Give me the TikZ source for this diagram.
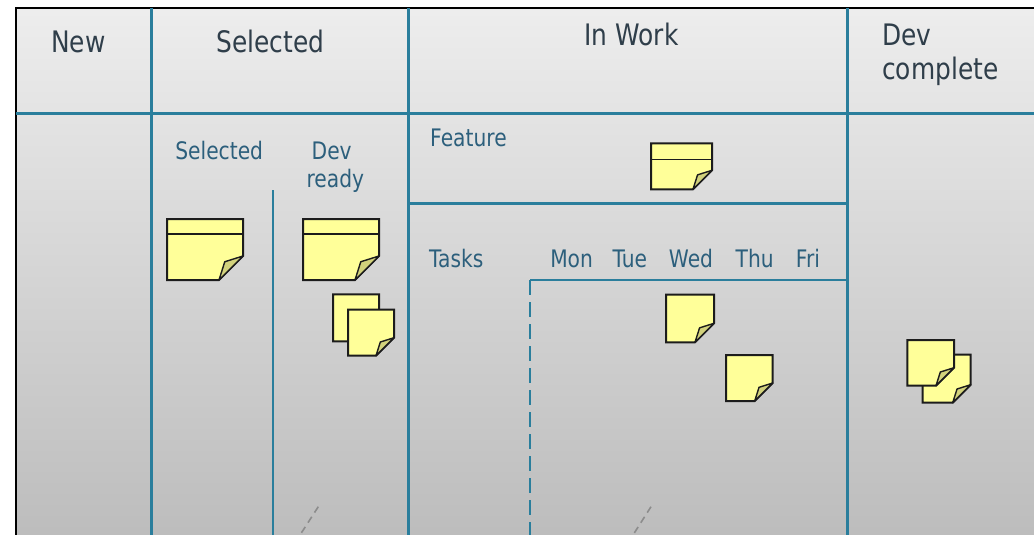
\documentclass[tikz,border=0pt]{standalone}
\usepackage{fontspec}
\setmainfont{DejaVu Sans}[FakeStretch=0.84]
\definecolor{bluel}{HTML}{2A7E9C}
\definecolor{headtxt}{HTML}{2F3E4A}
\definecolor{subtxt}{HTML}{2C5F7C}
\definecolor{noteyel}{HTML}{FFFF99}
\definecolor{notefold}{HTML}{D2D27C}
\definecolor{notebrd}{HTML}{1C1C1C}
\tikzset{
  mainline/.style={draw=bluel, line width=3pt},
  subline/.style={draw=bluel, line width=2.5pt},
  dayline/.style={draw=bluel, line width=2.5pt, dash pattern=on 15pt off 7pt},
  hint/.style={draw=gray!90, line width=1.6pt, dash pattern=on 7pt off 5pt},
  headlabel/.style={inner sep=0pt, text=headtxt, font=\fontsize{29.6}{34}\selectfont},
  sublabel/.style={inner sep=0pt, text=subtxt, font=\fontsize{24.1}{28}\selectfont},
  notebody/.style={fill=noteyel, draw=notebrd, line width=2pt, line join=miter},
  noteflap/.style={fill=notefold, draw=notebrd, line width=1.4pt, line join=round},
}
% #1 x, #2 y, #3 w, #4 h, #5 fold, #6 header line offset (0 = none)
\newcommand{\snote}[6]{%
  \path[notebody] (#1,#2) -- (#1+#3,#2) -- (#1+#3,#2+#4-#5) -- (#1+#3-#5,#2+#4) -- (#1,#2+#4) -- cycle;
  \ifdim #6pt>0pt
    \draw[notebrd, line width=1.4pt] (#1,#2+#6) -- (#1+#3,#2+#6);
  \fi
  \path[noteflap] (#1+#3-#5,#2+#4) -- (#1+#3-0.76*#5,#2+#4-0.76*#5) -- (#1+#3,#2+#4-#5) -- cycle;
}
\begin{document}
\begin{tikzpicture}[x=1pt,y=-1pt]
\useasboundingbox (0,0) rectangle (1034,535);
% background
\shade[top color=black!7, bottom color=black!26] (16,8) rectangle (1034,535);
% frame
\draw[black, line width=2pt] (16,535) -- (16,8) -- (1034,8);
% header divider and columns
\path[mainline] (16,113) -- (1034,113);
\path[mainline] (151,8) -- (151,535);
\path[mainline] (408,8) -- (408,535);
\path[mainline] (847,8) -- (847,535);
% sub dividers
\path[subline] (273,190) -- (273,535);
\path[subline] (408,203.5) -- (847,203.5);
\path[subline] (530,280) -- (847,280);
\path[subline] (530,280) -- (530,295);
\path[dayline] (530,302) -- (530,535);
% hint lines
\path[hint] (318.3,506.7) -- (300,535);
\path[hint] (651,506.7) -- (633,535);
% header labels
\node[headlabel, anchor=base] (hnew) at (78.3,52.3) {New};
\node[headlabel, anchor=base] (hsel) at (270.3,52.3) {Selected};
\node[headlabel, anchor=base] (hwork) at (631.4,45.7) {In Work};
\node[headlabel, anchor=base west] (hdev) at (882,45.7) {Dev};
\node[headlabel, anchor=base west] (hcomp) at (882,80) {complete};
% sub labels
\node[sublabel, anchor=base] (ssel) at (219.2,159.3) {Selected};
\node[sublabel, anchor=base] (sdev) at (331.7,159.3) {Dev};
\node[sublabel, anchor=base] (sready) at (335.3,187.7) {ready};
\node[sublabel, anchor=base west] (sfeat) at (430,146.7) {Feature};
\node[sublabel, anchor=base west] (stask) at (429,267.7) {Tasks};
\node[sublabel, anchor=base] (dmon) at (571.6,267.7) {Mon};
\node[sublabel, anchor=base] (dtue) at (629.8,267.7) {Tue};
\node[sublabel, anchor=base] (dwed) at (691,267.7) {Wed};
\node[sublabel, anchor=base] (dthu) at (754.7,267.7) {Thu};
\node[sublabel, anchor=base] (dfri) at (807.9,267.7) {Fri};
% notes
\snote{167}{219}{76}{61}{24}{15}
\snote{303}{219}{76}{61}{24}{15}
\snote{651}{143.3}{61}{46}{19}{16}
\snote{333}{294.3}{46}{47}{18}{0}
\snote{348}{309.7}{46}{46}{18}{0}
\snote{666}{294.7}{48}{47.6}{19}{0}
\snote{726}{355}{46.7}{46}{18}{0}
\snote{922.7}{354.7}{48}{48}{18}{0}
\snote{907.3}{340}{46.7}{45.7}{18}{0}
\end{tikzpicture}
\end{document}
